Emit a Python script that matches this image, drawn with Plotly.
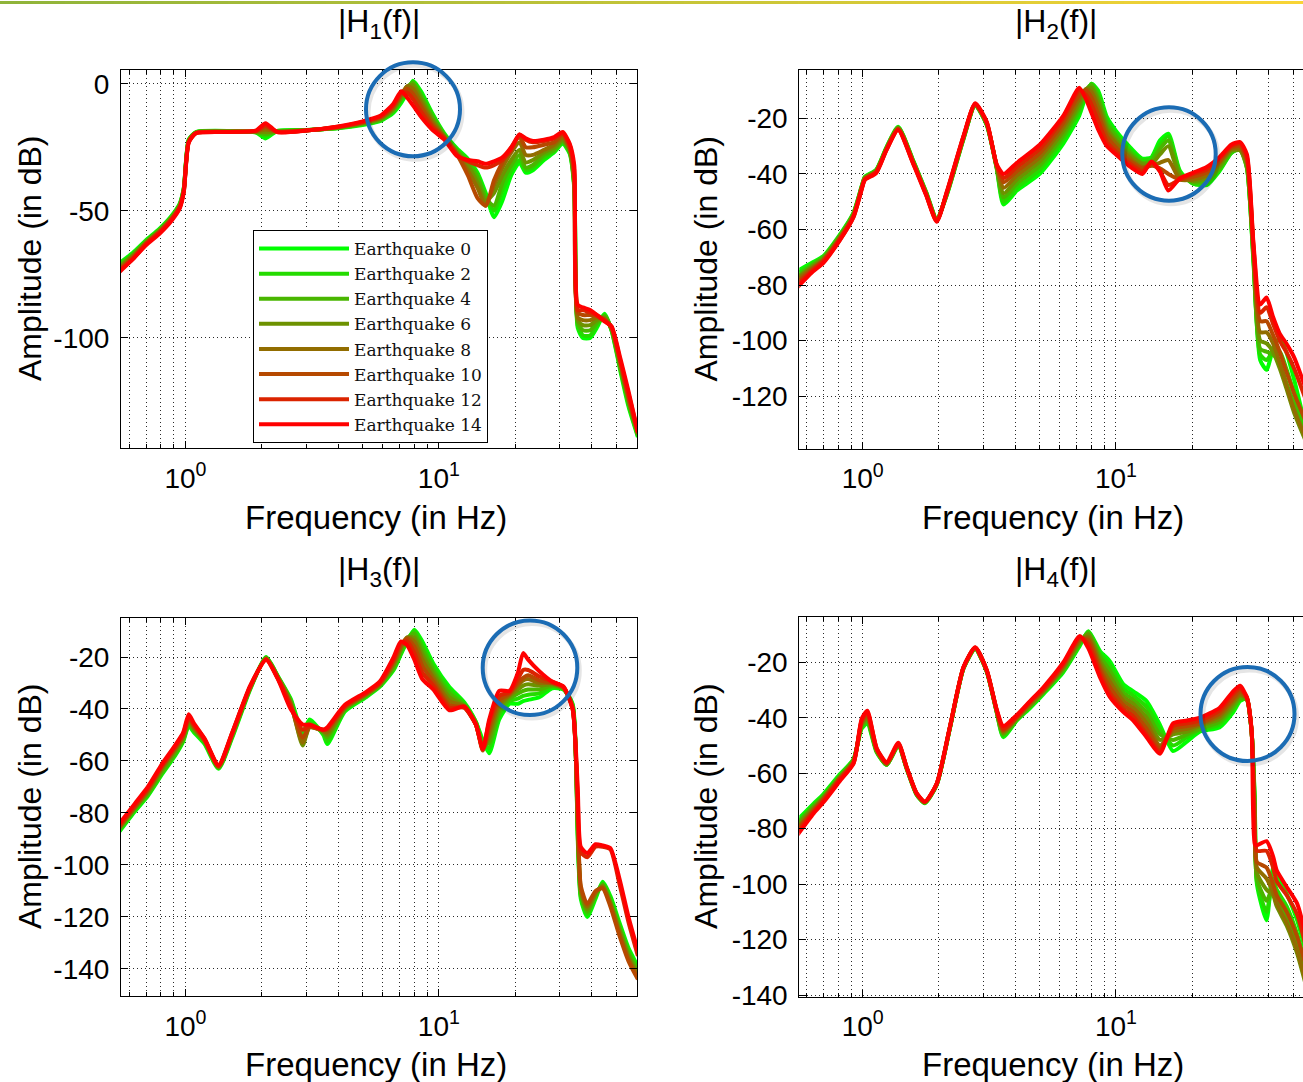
import plotly.graph_objects as go

W = 1303
H_REF = 1082          # reference picture height (layout coordinates are given in its pixels)
H = 1097              # figure height; the page photo is fitted back to 1082 rows

EQ_LABELS = ["Earthquake 0", "Earthquake 2", "Earthquake 4", "Earthquake 6",
             "Earthquake 8", "Earthquake 10", "Earthquake 12", "Earthquake 14"]
EQ_COLORS = ["#00ff00", "#24db00", "#49b600", "#6d9200",
             "#926d00", "#b64900", "#db2400", "#ff0000"]

X_TICKS = [1, 10]
X_TICKTEXT = ["10<sup>0</sup>", "10<sup>1</sup>"]
X_MINOR = [0.6, 0.7, 0.8, 0.9, 2, 3, 4, 5, 6, 7, 8, 9, 20, 30, 40, 50, 60]
H1_YTICKS = [-100, -50, 0]
H2_YTICKS = [-120, -100, -80, -60, -40, -20]
H3_YTICKS = [-140, -120, -100, -80, -60, -40, -20]
H4_YTICKS = [-140, -120, -100, -80, -60, -40, -20]

# ---------------- |H1(f)| ----------------
H1_FREQ = [0.55, 0.62, 0.70, 0.79, 0.88, 0.95, 0.985, 1.03, 1.10, 1.5, 1.9, 2.07, 2.3, 3.0, 4.0, 5.0,
           5.9, 6.6, 7.1, 7.5, 7.9, 8.5, 9.4, 10.5, 11.8, 13.0, 14.2, 15.3, 16.5, 17.8, 19.3, 20.8,
           22.0, 23.5, 26.0, 28.5, 30.8, 32.8, 34.2, 35.3, 37.0, 39.5, 42.0, 45.0, 48.0, 52.0, 56.0, 61.0]
H1_EQ0 = [-70.5, -66.5, -61.5, -57, -52, -47, -41, -22, -19, -18.6, -19.2, -21.5, -18.6, -18.2, -17.5, -16.2,
          -14.6, -11.5, -7.5, -3.5, 1.2, -3, -11.5, -19.5, -25.5, -29.5, -35, -43, -52.5, -46, -36, -31,
          -35, -34, -30, -27, -23.5, -27.5, -41, -96, -100, -100, -96, -90.5, -97, -113, -127, -139]
H1_EQ2 = [-71, -67, -62, -57.5, -52.5, -47.5, -41, -22.2, -19.1, -18.7, -19.1, -20.5, -18.7, -18.2, -17.4, -16,
          -14.3, -11, -6.5, -2.5, 0.8, -4, -12, -20, -26, -30, -36, -44, -50, -42, -34, -30,
          -34, -33, -29, -26.5, -23, -27, -40, -95, -99, -99, -95, -91, -97, -112, -126, -138.5]
H1_EQ4 = [-71.5, -67.5, -62, -57.5, -52.5, -47.5, -41.5, -22.4, -19.2, -18.8, -19, -19.8, -18.8, -18.3, -17.3, -15.8,
          -14, -10.5, -5.8, -1.5, 0.3, -5, -13, -20.3, -26.5, -31, -37, -45, -48, -39, -32, -28,
          -33, -32, -28, -26, -22.5, -26.5, -40, -94, -97, -97, -94, -91.5, -96.5, -111.5, -125, -138]
H1_EQ6 = [-72, -67.5, -62.5, -58, -53, -48, -41.5, -22.5, -19.2, -18.8, -18.9, -19, -18.8, -18.3, -17.2, -15.6,
          -13.7, -10, -5, -1, -0.5, -6, -14, -20.6, -27, -32, -39, -46, -43, -36, -30, -26,
          -31, -30, -27, -25, -22, -26, -39, -93, -95, -95, -93, -92, -96.5, -111, -124.5, -138]
H1_EQ8 = [-72.5, -68, -62.5, -58, -53, -48, -42, -22.6, -19.3, -18.9, -18.8, -18, -18.9, -18.3, -17.1, -15.4,
          -13.4, -9.5, -4.5, -1, -2, -7.5, -15, -21, -27.5, -34, -41, -48, -40, -33, -27, -23,
          -28, -28, -26, -24, -21, -25.5, -38, -92, -93, -93, -92, -92.5, -96, -110, -124, -137.5]
H1_EQ10 = [-73, -68.5, -63, -58.5, -53.5, -48.5, -42, -22.8, -19.4, -18.9, -18.7, -17, -18.9, -18.4, -17, -15.2,
           -13.1, -9, -4, -2, -4, -9, -16, -21.3, -28, -36, -45, -48, -38, -31, -25, -21,
           -25, -25, -24, -23, -20, -25, -36, -90, -91, -91, -91.5, -93, -96, -109.5, -123, -137.5]
H1_EQ12 = [-73.5, -69, -63, -58.5, -53.5, -48.5, -42.5, -23, -19.5, -19, -18.5, -16.3, -19, -18.4, -16.9, -15,
           -12.8, -8.5, -3.5, -3.5, -6, -11, -17, -21.6, -28, -30.5, -32, -33, -32, -30, -26, -20,
           -22, -23, -22.5, -21.5, -19.5, -24, -34, -89, -89, -90, -91, -93, -95.5, -109, -122, -137]
H1_EQ14 = [-74, -69, -63.5, -59, -54, -49, -42.5, -23.2, -19.5, -19, -18.4, -15.5, -19, -18.4, -16.8, -14.8,
           -12.5, -8, -3, -5.5, -8.5, -13, -18, -22, -28.5, -30, -30.5, -31.5, -30.5, -29, -25, -20,
           -21.5, -22.5, -22, -21, -19, -23.5, -32, -87, -88, -89, -91, -93.5, -95.5, -108, -121, -137]

# ---------------- |H2(f)| ----------------
H2_FREQ = [0.55, 0.63, 0.70, 0.81, 0.92, 0.99, 1.02, 1.13, 1.24, 1.38, 1.58, 1.78, 1.96, 2.15, 2.5, 2.78,
           3.09, 3.38, 3.6, 4.06, 5.0, 6.2, 7.16, 7.6, 8.0, 8.5, 9.2, 10.0, 11.4, 12.7, 13.8, 14.9,
           16.1, 17.9, 20.2, 22.8, 25.6, 28.5, 30.9, 32.9, 34.9, 37.1, 39.3, 41.7, 44.3, 47.0, 50.5, 56.0]
H2_EQ0 = [-75, -72, -69.5, -62, -54, -44.5, -41, -38.5, -30.5, -23, -35, -46.5, -56, -47.5, -27.5, -15.3,
          -22.5, -38, -51, -46, -40, -29, -19, -12, -7.5, -10, -19.5, -24.5, -30.5, -34.5, -34, -28,
          -25.5, -39, -43.5, -44, -39, -32.5, -30.5, -37.5, -72, -107, -110.5, -103, -99, -104, -114, -131]
H2_EQ2 = [-76, -72.5, -70, -62.5, -54, -44.7, -41.2, -38.7, -30.6, -23.2, -35.2, -46.7, -56.2, -47.3, -27.3, -15.2,
          -22.3, -37.8, -50, -45, -38.5, -27.5, -17.5, -11, -7.5, -11, -20.5, -25.5, -31.5, -35, -34.5, -29.5,
          -26.5, -39.5, -43.5, -43.5, -38.5, -32.5, -31, -38, -71, -105, -107, -104, -104, -110, -119, -133]
H2_EQ4 = [-77, -73, -70, -62.5, -54.5, -44.9, -41.4, -38.9, -30.8, -23.4, -35.4, -46.9, -56.4, -47.1, -27.1, -15.1,
          -22.1, -37.6, -48.5, -43.5, -37, -26, -16, -10, -8, -12.5, -22, -26.5, -32.5, -36, -35.5, -31,
          -28, -40, -43, -42.5, -38, -32, -31.5, -38, -70, -103, -104, -105, -108, -115, -123, -135]
H2_EQ6 = [-77.5, -73.5, -70.5, -63, -54.5, -45, -41.5, -39, -31, -23.5, -35.5, -47, -56.5, -47, -27, -15,
          -22, -37.4, -47, -42, -35.5, -24.5, -14.5, -9.5, -9, -14, -23.5, -28, -33.5, -36.5, -36.5, -33,
          -30, -41, -42.5, -41.5, -37, -31.5, -31.5, -37, -69, -100, -101, -104, -110, -117, -126, -136]
H2_EQ8 = [-78, -74, -71, -63, -55, -45.1, -41.6, -39.1, -31.1, -23.6, -35.6, -47.1, -56.6, -46.9, -26.9, -14.9,
          -21.9, -37.2, -45, -40.5, -34, -23, -13, -9.5, -10.5, -16, -25, -29, -34.5, -37.5, -37, -36,
          -35, -42, -42, -40.5, -36, -31, -31, -36, -68, -97, -97, -101, -108, -116, -125, -135]
H2_EQ10 = [-79, -74.5, -71, -63.5, -55, -45.3, -41.8, -39.3, -31.2, -23.8, -35.8, -47.3, -56.8, -46.7, -26.7, -14.8,
           -21.7, -37, -43, -39, -32.5, -21.5, -11.5, -10, -12.5, -18.5, -26.5, -30.5, -35.5, -38, -37, -38,
           -40, -42, -41, -39.5, -35.5, -30.5, -30, -35, -67, -93, -93, -98, -104, -111, -119, -129]
H2_EQ12 = [-80, -75, -71.5, -64, -55.5, -45.5, -42, -39.5, -31.4, -24, -36, -47.5, -57, -46.5, -26.5, -14.7,
           -21.5, -36.8, -41.5, -37.5, -31, -20, -10, -11.5, -15, -21, -28.5, -32, -36.5, -39, -36, -39,
           -44, -42, -40, -38.5, -34.5, -30, -29, -34, -66, -90, -88, -94, -100, -104, -110, -121]
H2_EQ14 = [-81, -75.5, -72, -64, -55.5, -45.7, -42.2, -39.7, -31.5, -24.2, -36.2, -47.7, -57.2, -46.3, -26.3, -14.6,
           -21.3, -36.5, -40, -36, -29.5, -19, -9, -13, -18, -24, -30, -33, -37.5, -40, -35.5, -39,
           -46, -41.5, -39.5, -37.5, -34, -29.5, -28.5, -33, -65, -87, -84.5, -91.5, -97.5, -101, -106, -117]

# ---------------- |H3(f)| ----------------
H3_FREQ = [0.55, 0.63, 0.71, 0.81, 0.91, 0.98, 1.03, 1.08, 1.19, 1.35, 1.53, 1.8, 2.08, 2.32, 2.6, 2.9, 3.09,
           3.5, 3.63, 4.25, 5.15, 5.84, 6.63, 7.08, 7.5, 8.0, 8.6, 9.5, 11.0, 12.6, 14.0, 14.9, 15.8, 17.3,
           19.0, 20.5, 21.5, 22.5, 24.9, 28.0, 31.0, 33.7, 35.3, 36.3, 38.5, 41.5, 44.3, 47.5, 51.5, 56.0, 61.0]
H3_EQ0 = [-87, -79.5, -73.5, -65, -58, -52.5, -46.5, -49, -53.5, -63, -51, -32.5, -20, -27.5, -36, -49, -44,
          -50, -53.5, -41, -35.5, -31.5, -25, -19, -14, -9.5, -14, -22.5, -31.5, -37.5, -45, -52, -57, -44,
          -38, -38, -37, -36.5, -35.5, -32, -32.5, -38, -90, -113, -120, -113, -106.5, -112, -122, -132, -139]
H3_EQ2 = [-86.5, -79, -73, -64.5, -57.5, -52, -46, -48.5, -53, -62.5, -50.5, -32, -20.2, -27.7, -36.5, -50, -45,
          -49.5, -52.5, -40.5, -35, -31, -24.5, -18.5, -13.5, -10, -15.5, -23.5, -32.5, -38, -45, -53, -55, -42.5,
          -37, -36, -35, -34.5, -34, -31.5, -32.3, -38.5, -88, -112, -119, -112, -107, -113, -123, -133, -140]
H3_EQ4 = [-86, -78.5, -72.5, -64, -57, -51.5, -45.5, -48, -52.5, -62.5, -50, -32, -20.4, -27.9, -37, -52, -46,
          -49, -51, -40, -35, -31, -24, -17.5, -13, -11, -17, -25, -34, -38.5, -45.5, -54, -53, -41,
          -36, -34, -33, -32.5, -32.5, -31, -32.1, -39, -86, -111, -118, -111.5, -107.5, -114, -124, -134, -141]
H3_EQ6 = [-85.5, -78, -72, -63, -56, -51, -45, -47.5, -52.5, -62.5, -50, -32, -20.5, -28, -37.5, -54, -47,
          -48.5, -50, -40, -34.5, -30.5, -23, -17, -12.5, -12.5, -19, -26.5, -35.5, -39, -45.5, -55, -51, -39.5,
          -35, -32.5, -31, -30.5, -31, -30.5, -32, -39, -84, -110, -117, -111, -108, -115, -125, -135, -142]
H3_EQ8 = [-85.5, -78, -71.5, -62.5, -55.5, -50.5, -44, -47, -52, -62, -49.5, -31.5, -20.6, -28.1, -38, -53, -47,
          -48.5, -49, -39.5, -34.5, -30.5, -22.5, -16, -12.5, -14, -21, -28, -37, -39, -46, -55.5, -49, -38,
          -34.5, -31, -29, -28.5, -30, -30, -31.9, -39.5, -82, -109, -116, -110.5, -108.5, -115, -126, -136, -143]
H3_EQ10 = [-85, -77.5, -71, -62, -55, -50, -43.5, -46.5, -52, -62, -49.5, -31.5, -20.8, -28.3, -38.5, -51, -47,
           -48, -48, -39, -34, -30, -21.5, -15.5, -13, -16, -23.5, -29.5, -38.5, -39.5, -46, -56, -47, -36.5,
           -34, -30, -28, -27, -29, -30, -31.7, -39.5, -80, -108, -115, -110, -109, -116, -127, -137, -144]
H3_EQ12 = [-84.5, -77, -70.5, -61.5, -54.5, -49.5, -43, -46, -51.5, -62, -49, -31.5, -21, -28.5, -39, -48, -46.5,
           -48, -47.5, -39, -34, -30, -21, -14.5, -14, -18.5, -26, -31, -39.5, -39.5, -46, -55, -45, -35,
           -33.5, -28.5, -25, -25, -27.5, -29.5, -31.5, -40, -74, -95, -97, -93, -93, -94, -107, -122, -135]
H3_EQ14 = [-84, -76.5, -70, -61, -54, -49, -42, -45.5, -51.5, -61.5, -49, -31, -21.2, -28.7, -40, -46, -46,
           -48, -47, -38.5, -33.5, -29.5, -20, -14, -15.5, -21, -28.5, -32.5, -40.5, -39, -46, -55.5, -44, -33,
           -33, -26, -18.5, -21, -25.5, -29.5, -31.3, -40, -70, -93, -95.5, -92, -92.5, -93.5, -105, -120, -133]

# ---------------- |H4(f)| ----------------
H4_FREQ = [0.55, 0.64, 0.70, 0.81, 0.92, 0.99, 1.043, 1.135, 1.244, 1.382, 1.49, 1.633, 1.76, 1.96, 2.21, 2.5,
           2.78, 3.09, 3.38, 3.59, 4.06, 4.58, 5.17, 6.2, 7.2, 7.78, 8.65, 9.45, 10.7, 11.7, 13.2, 14.9,
           16.8, 19.1, 21.4, 25.6, 29.0, 30.9, 32.8, 34.3, 35.3, 36.0, 39.3, 41.7, 43.1, 47.2, 51.9, 56.0]
H4_EQ0 = [-77, -71, -67.5, -60.5, -55, -44, -42, -52.5, -57, -50, -58.3, -67.8, -70.8, -64.2, -43.8, -22.3,
          -15.2, -23.5, -38, -47, -41, -36.5, -31.5, -23.5, -14, -8.8, -16, -19.6, -28, -30.5, -34, -42.5,
          -52, -48.5, -45, -43.5, -38, -34, -33, -45, -69, -100, -113, -94, -97, -103.5, -113, -124]
H4_EQ2 = [-78, -71.5, -68, -61, -55, -43.5, -41.5, -52, -57, -50, -58.2, -67.7, -70.7, -64.1, -43.7, -22.2,
          -15.1, -23.4, -37.9, -46.5, -40.8, -36, -31, -23, -13.5, -9, -17, -21, -29.5, -32, -36, -44,
          -50, -47, -44.5, -42.5, -37, -33.5, -33, -45, -70, -99, -110, -98, -102, -108, -118, -129]
H4_EQ4 = [-78.5, -72, -68.5, -61.5, -55.5, -43, -41, -52, -57, -50, -58.1, -67.6, -70.6, -64, -43.6, -22.1,
          -15, -23.3, -37.8, -46, -40.5, -35.8, -30.8, -22.5, -13, -9.5, -18, -23, -31, -33.5, -38, -46,
          -48, -46, -44, -41.5, -36, -33, -33.5, -45, -72, -98, -106, -101, -106, -112, -122, -133]
H4_EQ6 = [-79, -72.5, -69, -61.5, -55.5, -42.5, -40, -52, -56.5, -49.5, -58, -67.5, -70.5, -64, -43.5, -22,
          -14.9, -23.2, -37.6, -45.5, -40.2, -35.5, -30.5, -22, -12.5, -10, -19.5, -25, -32.5, -35, -40, -48,
          -46, -45, -43, -40.5, -35, -32, -33, -45, -74, -96, -102, -104, -108, -115, -125, -136]
H4_EQ8 = [-80, -73, -69, -62, -56, -42, -39.5, -51.5, -56.5, -49.5, -58, -67.5, -70.5, -64, -43.5, -22,
          -14.9, -23.2, -37.5, -45, -40, -35, -30.2, -21.5, -12, -11, -21, -27, -34, -36.5, -42, -50,
          -45, -44, -42.5, -39.5, -34, -31.5, -33, -44.5, -76, -94, -98, -103, -107, -114, -124, -135]
H4_EQ10 = [-80.5, -73.5, -69.5, -62, -56, -41.5, -38.5, -51.5, -56.5, -49.5, -57.9, -67.4, -70.4, -63.9, -43.4, -21.9,
           -14.8, -23.1, -37.4, -44.5, -39.8, -34.5, -30, -21, -11.5, -12, -22.5, -29, -35.5, -38, -44, -51,
           -44, -43, -42, -38.5, -33, -30.5, -32.5, -44.5, -79, -92, -94, -100, -104, -110, -119, -129]
H4_EQ12 = [-81.5, -74, -70, -62.5, -56.5, -41, -38, -51, -56.5, -49.5, -57.8, -67.3, -70.3, -63.8, -43.3, -21.8,
           -14.7, -23, -37.2, -44, -39.5, -34.2, -29.5, -20.5, -11, -13.5, -24, -31, -37, -39.5, -46, -52,
           -43, -42, -41, -37.5, -31.5, -29.5, -32.5, -44.5, -82, -88, -88, -94, -99, -104, -111, -122]
H4_EQ14 = [-82.5, -74.5, -70.5, -63, -56.5, -40.5, -37.5, -51, -56, -49, -57.7, -67.2, -70.2, -63.7, -43.2, -21.7,
           -14.6, -22.9, -37, -43, -39, -34, -29, -20, -10.5, -15, -25.5, -32.5, -38, -41, -47, -53,
           -42, -41, -40, -36.5, -30.5, -28.5, -32.5, -44.5, -85.5, -86, -84.5, -90, -95, -101, -107, -118]

# ---------------- figure ----------------
FONT = "Liberation Sans, Arial, sans-serif"
GRID = "#2a2a2a"
DOT = "1px,3px"


def px(x):
    return x / W


def py(y):
    return 1 - y / H_REF


PANELS = [
    dict(title="|H<sub>1</sub>(f)|", freq=H1_FREQ,
         series=[H1_EQ0, H1_EQ2, H1_EQ4, H1_EQ6, H1_EQ8, H1_EQ10, H1_EQ12, H1_EQ14],
         xpix=(121, 637), ypix=(69, 447), xr=(-0.2544, 1.7817), yr=(-143.3, 5.4),
         yt=H1_YTICKS, full=True, tx=379, ty=22, ylx=30, xly=517),
    dict(title="|H<sub>2</sub>(f)|", freq=H2_FREQ,
         series=[H2_EQ0, H2_EQ2, H2_EQ4, H2_EQ6, H2_EQ8, H2_EQ10, H2_EQ12, H2_EQ14],
         xpix=(799.3, 1303), ypix=(69.3, 447.7), xr=(-0.2503, 1.7383), yr=(-138.9, -2.7),
         yt=H2_YTICKS, full=False, tx=1056, ty=22, ylx=706, xly=517),
    dict(title="|H<sub>3</sub>(f)|", freq=H3_FREQ,
         series=[H3_EQ0, H3_EQ2, H3_EQ4, H3_EQ6, H3_EQ8, H3_EQ10, H3_EQ12, H3_EQ14],
         xpix=(121, 637), ypix=(617, 995), xr=(-0.2544, 1.7817), yr=(-150.4, -5.0),
         yt=H3_YTICKS, full=True, tx=379, ty=570, ylx=30, xly=1063),
    dict(title="|H<sub>4</sub>(f)|", freq=H4_FREQ,
         series=[H4_EQ0, H4_EQ2, H4_EQ4, H4_EQ6, H4_EQ8, H4_EQ10, H4_EQ12, H4_EQ14],
         xpix=(799.3, 1303), ypix=(616.3, 995.5), xr=(-0.2503, 1.7383), yr=(-140.5, -3.8),
         yt=H4_YTICKS, full=False, tx=1056, ty=570, ylx=706, xly=1063),
]

fig = go.Figure()
annotations = []
layout_axes = {}

for i, p in enumerate(PANELS):
    n = "" if i == 0 else str(i + 1)
    xa, ya = "x" + n, "y" + n
    for k, vals in enumerate(p["series"]):
        fig.add_trace(go.Scatter(
            x=p["freq"], y=vals, mode="lines", name=EQ_LABELS[k],
            line=dict(color=EQ_COLORS[k], width=4, shape="spline", smoothing=0.6),
            xaxis=xa, yaxis=ya, showlegend=(i == 0), legendgroup=EQ_LABELS[k],
            hoverinfo="skip"))
    x0, x1 = p["xpix"]
    y0, y1 = p["ypix"]
    layout_axes["xaxis" + n] = dict(
        type="log", domain=[px(x0), min(1.0, px(x1))], range=list(p["xr"]), anchor=ya,
        showline=True, linecolor="black", linewidth=1, mirror="allticks",
        ticks="inside", ticklen=7, tickcolor="black", tickwidth=1,
        tickmode="array", tickvals=X_TICKS, ticktext=X_TICKTEXT,
        tickfont=dict(family=FONT, size=28, color="black"), ticklabelstandoff=5,
        showgrid=True, gridcolor=GRID, griddash=DOT, gridwidth=1, zeroline=False,
        minor=dict(tickmode="array", tickvals=X_MINOR, ticks="inside", ticklen=4,
                   tickcolor="black", showgrid=True, gridcolor=GRID, griddash=DOT, gridwidth=1),
        fixedrange=True)
    layout_axes["yaxis" + n] = dict(
        domain=[py(y1), py(y0)], range=list(p["yr"]), anchor=xa,
        showline=True, linecolor="black", linewidth=1,
        mirror="ticks" if p["full"] else False,
        ticks="inside", ticklen=7, tickcolor="black", tickwidth=1,
        tickmode="array", tickvals=p["yt"], ticktext=[str(v) for v in p["yt"]],
        tickfont=dict(family=FONT, size=28, color="black"), ticklabelstandoff=5,
        showgrid=True, gridcolor=GRID, griddash=DOT, gridwidth=1, zeroline=False,
        fixedrange=True)
    annotations.append(dict(text=p["title"], x=px(p["tx"]), y=py(p["ty"]), xref="paper", yref="paper",
                            xanchor="center", yanchor="middle", showarrow=False,
                            font=dict(family=FONT, size=32, color="black")))
    annotations.append(dict(text="Amplitude (in dB)", x=px(p["ylx"]), y=py((y0 + y1) / 2),
                            xref="paper", yref="paper", xanchor="center", yanchor="middle",
                            textangle=-90, showarrow=False,
                            font=dict(family=FONT, size=32, color="black")))
    annotations.append(dict(text="Frequency (in Hz)", x=px(p["tx"] - 3), y=py(p["xly"]),
                            xref="paper", yref="paper", xanchor="center", yanchor="middle",
                            showarrow=False, font=dict(family=FONT, size=33, color="black")))

shapes = []
# top gradient stripe
NSEG = 80
c0, c1 = (143, 180, 58), (248, 212, 53)
for s in range(NSEG):
    t = s / (NSEG - 1)
    col = "rgb(%d,%d,%d)" % tuple(round(a + (b - a) * t) for a, b in zip(c0, c1))
    shapes.append(dict(type="rect", xref="paper", yref="paper", x0=s / NSEG, x1=(s + 1.05) / NSEG,
                       y0=py(3), y1=1, fillcolor=col, line=dict(width=0), layer="above"))

# highlight circles
CIRCLES = [(413, 108.3, 47), (1169, 153, 46.7), (530, 666.7, 47.3), (1247.5, 713, 47)]
for cx, cy, r in CIRCLES:
    shapes.append(dict(type="circle", xref="paper", yref="paper",
                       x0=px(cx - r + 2), x1=px(cx + r + 2), y0=py(cy + r + 3), y1=py(cy - r + 3),
                       line=dict(color="rgba(0,0,0,0.10)", width=5), layer="above"))
    shapes.append(dict(type="circle", xref="paper", yref="paper",
                       x0=px(cx - r), x1=px(cx + r), y0=py(cy + r), y1=py(cy - r),
                       line=dict(color="#1b6cb4", width=4), layer="above"))

fig.update_layout(
    width=W, height=H, margin=dict(l=0, r=0, t=0, b=0),
    paper_bgcolor="white", plot_bgcolor="white",
    showlegend=True,
    legend=dict(x=px(253), y=py(229), xanchor="left", yanchor="top",
                bgcolor="white", bordercolor="black", borderwidth=1,
                font=dict(family="DejaVu Serif", size=17, color="#111111"),
                itemwidth=90, tracegroupgap=0, traceorder="normal"),
    annotations=annotations, shapes=shapes, hovermode=False,
    **layout_axes)

fig.write_html("out.html", config={"displayModeBar": False},
               post_script="document.body.style.margin='0';document.body.style.overflow='hidden';"
                           "document.documentElement.style.overflow='hidden';")
